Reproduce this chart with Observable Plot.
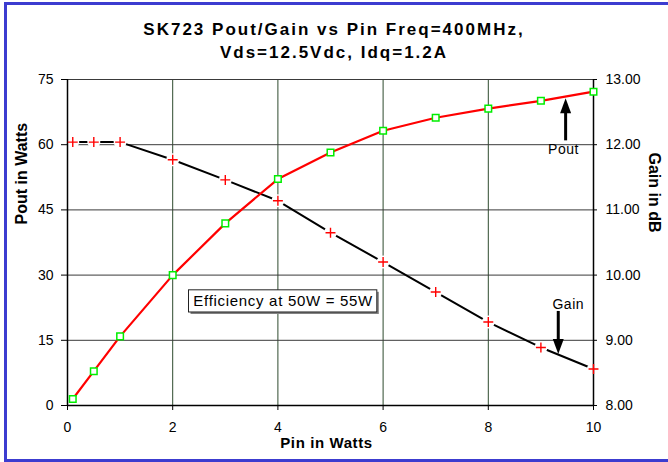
<!DOCTYPE html>
<html>
<head>
<meta charset="utf-8">
<script src="https://cdn.jsdelivr.net/npm/d3@7"></script>
<script src="https://cdn.jsdelivr.net/npm/@observablehq/plot@0.6"></script>
<style>
  body { margin: 0; background: white; }
  #wrap { position: relative; width: 668px; height: 462px; overflow: hidden; background: white; font-family: "Liberation Sans", Arial, sans-serif; }
  #border { position: absolute; left: 4px; top: 2px; width: 700px; height: 460px; box-sizing: border-box; border: 3px solid #3c3cd0; border-right: none; z-index: 2; pointer-events: none; }
  #title { position: absolute; left: 0; top: 0; width: 668px; height: 66px; box-sizing: border-box; padding-top: 18px; text-align: center; font-weight: bold; font-size: 17px; letter-spacing: 2px; line-height: 23px; color: #000; }
  #chart { position: absolute; left: 0; top: 66px; }
</style>
</head>
<body>
<div id="wrap">
  <div id="title">SK723 Pout/Gain vs Pin Freq=400MHz,<br>Vds=12.5Vdc, Idq=1.2A</div>
  <div id="chart"></div>
  <div id="border"></div>
</div>
<script>
// ---- data ----
const pin  = [0.1, 0.5, 1, 2, 3, 4, 5, 6, 7, 8, 9, 10];
const pout = [1.5, 7.9, 15.9, 30.0, 41.9, 52.1, 58.2, 63.2, 66.2, 68.3, 70.1, 72.2];
const gain = [12.04, 12.04, 12.04, 11.77, 11.46, 11.14, 10.65, 10.20, 9.74, 9.28, 8.89, 8.56];
const xTicks = [0, 2, 4, 6, 8, 10];
const poutTicks = [0, 15, 30, 45, 60, 75];
const gainTicks = [8, 9, 10, 11, 12, 13];
const effNote = [{x1: 2.31, x2: 5.89, y1: 21.4, y2: 26.5, x: 4.1, y: 23.95, text: "Efficiency at 50W = 55W"}];
const poutArrow = [{x: 9.47, tail: 61.0, tip: 70.7, label: "Pout", lx: 9.43, ly: 58.8}];
const gainArrow = [{x: 9.33, tail: 9.45, tip: 8.79, label: "Gain", lx: 9.52, ly: 9.55}];

// gain (8..13 dB) mapped onto the Pout scale (0..75 W)
const toP = g => (g - 8) * 15;
const rows = pin.map((p, i) => ({pin: p, pout: pout[i], gain: toP(gain[i])}));

const font = "Liberation Sans, Arial, sans-serif";
const arrowHead = { draw(ctx) { ctx.moveTo(0, 0); ctx.lineTo(-5.5, 15); ctx.lineTo(5.5, 15); ctx.closePath(); } };

const chart = Plot.plot({
  width: 668,
  height: 396,
  marginTop: 13,
  marginBottom: 57,
  marginLeft: 67,
  marginRight: 75,
  style: {fontFamily: font, fontSize: "14px", background: "transparent", color: "black"},
  x: {domain: [0, 10]},
  y: {domain: [0, 75]},
  marks: [
    Plot.ruleX(xTicks.slice(1, -1), {stroke: "#2e4a2e", strokeWidth: 1}),
    Plot.ruleY(poutTicks.slice(1), {stroke: "#3a3a3a", strokeWidth: 1}),
    // gain line with gaps around markers
    Plot.line(rows, {x: "pin", y: "gain", stroke: "black", strokeWidth: 2}),
    Plot.dot(rows, {x: "pin", y: "gain", r: 6.5, fill: "white"}),
    // axis lines
    Plot.ruleX([0], {stroke: "black", strokeWidth: 1.5}),
    Plot.ruleX([10], {stroke: "black", strokeWidth: 1.5}),
    Plot.ruleY([0], {stroke: "black", strokeWidth: 1.5}),
    Plot.axisX({ticks: xTicks, tickSize: 5, tickPadding: 12, label: null, fontSize: 14, stroke: "black"}),
    Plot.axisY({anchor: "left", ticks: poutTicks, tickSize: 6, tickPadding: 8, label: null, fontSize: 14}),
    Plot.axisY({anchor: "right", ticks: gainTicks.map(toP), tickFormat: d => (d / 15 + 8).toFixed(2), tickSize: 3, tickPadding: 9, label: null, fontSize: 14}),
    // gain markers
    Plot.dot(rows, {x: "pin", y: "gain", symbol: "plus", r: 3.3, stroke: "#ff0000", strokeWidth: 1.4}),
    // Pout line and markers
    Plot.line(rows, {x: "pin", y: "pout", stroke: "#ff0000", strokeWidth: 2.2}),
    Plot.dot(rows, {x: "pin", y: "pout", symbol: "square", r: 3.7, stroke: "#00ee00", strokeWidth: 1.5, fill: "white"}),
    // efficiency note
    Plot.rect(effNote, {x1: "x1", x2: "x2", y1: "y1", y2: "y2", fill: "#808080", dx: 2, dy: 2}),
    Plot.rect(effNote, {x1: "x1", x2: "x2", y1: "y1", y2: "y2", fill: "white", stroke: "#222", strokeWidth: 1}),
    Plot.text(effNote, {x: "x", y: "y", text: "text", fontSize: 15, fill: "black"}),
    // Pout arrow
    Plot.link(poutArrow, {x1: "x", x2: "x", y1: "tail", y2: d => d.tip - 2, stroke: "black", strokeWidth: 3}),
    Plot.dot(poutArrow, {x: "x", y: "tip", symbol: arrowHead, fill: "black", stroke: "none"}),
    Plot.text(poutArrow, {x: "lx", y: "ly", text: "label", fontSize: 14, fill: "black"}),
    // Gain arrow
    Plot.link(gainArrow, {x1: "x", x2: "x", y1: d => toP(d.tail), y2: d => toP(d.tip) + 2, stroke: "black", strokeWidth: 3}),
    Plot.dot(gainArrow, {x: "x", y: d => toP(d.tip), symbol: arrowHead, rotate: 180, fill: "black", stroke: "none"}),
    Plot.text(gainArrow, {x: "lx", y: d => toP(d.ly), text: "label", fontSize: 14, fill: "black"}),
    // axis titles
    Plot.text(["Pout in Watts"], {frameAnchor: "left", dx: -46, dy: -18, rotate: -90, text: d => d, fontSize: 16, fontWeight: "bold", fill: "black"}),
    Plot.text(["Gain in dB"], {frameAnchor: "right", dx: 61, dy: -10, rotate: 90, text: d => d, fontSize: 16, fontWeight: "bold", fill: "black"}),
    Plot.text(["Pin in Watts"], {frameAnchor: "bottom", dx: -4, dy: 42, text: d => d, fontSize: 15, fontWeight: "bold", fill: "black"})
  ]
});
// letter spacing like the original rendering
const spacing = {"Efficiency at 50W = 55W": "0.7px", "Pin in Watts": "0.6px", "Pout": "0.5px", "Gain": "0.5px"};
d3.select(chart).selectAll("text").each(function () {
  const s = spacing[this.textContent];
  if (s) this.setAttribute("letter-spacing", s);
});
document.getElementById("chart").appendChild(chart);
</script>
</body>
</html>
